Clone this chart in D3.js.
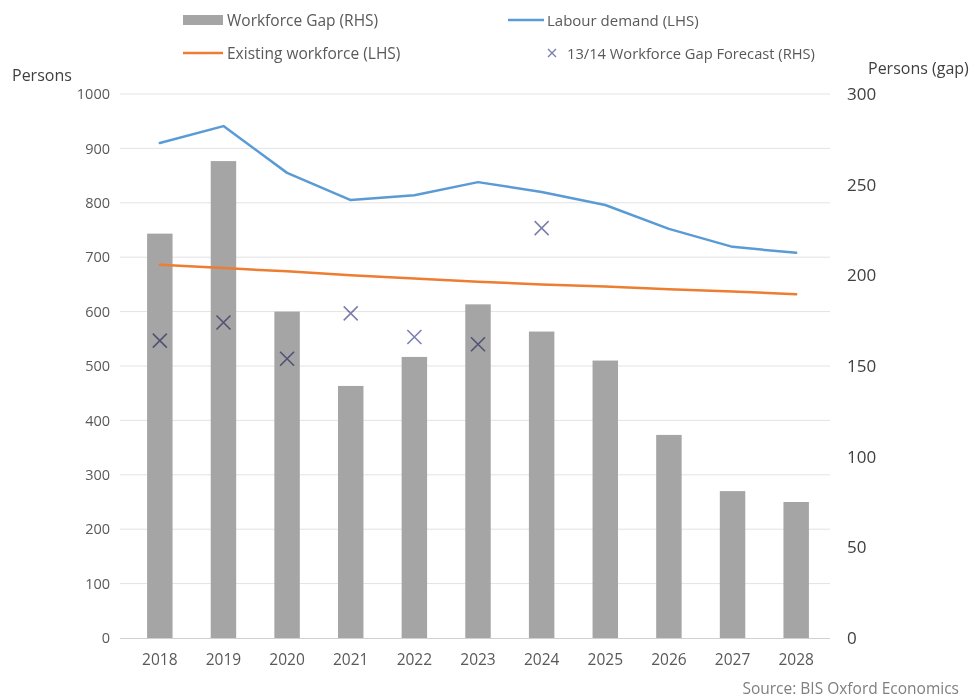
<!DOCTYPE html>
<html><head><meta charset="utf-8">
<script src="https://cdn.jsdelivr.net/npm/d3@7"></script>
<style>
body{margin:0;background:#fff;}
text{font-family:"Open Sans",sans-serif;}
</style></head>
<body><svg id="c" width="977" height="699"></svg>
<script>
const years = ["2018","2019","2020","2021","2022","2023","2024","2025","2026","2027","2028"];
const workforceGap = [223, 263, 180, 139, 155, 184, 169, 153, 112, 81, 75];
const labourDemand = [910, 941, 855, 805, 814, 838, 820, 796, 752, 719, 708];
const existingWorkforce = [686, 680, 674, 667, 661, 655, 650, 646, 641, 637, 632];
const forecastYears = ["2018","2019","2020","2021","2022","2023","2024"];
const forecastGap = [164, 174, 154, 179, 166, 162, 226];
const leftTicks = [0,100,200,300,400,500,600,700,800,900,1000];
const rightTicks = [0,50,100,150,200,250,300];

const svg = d3.select("#c");
const x = d3.scaleBand().domain(years).range([128, 828]).paddingInner(0.6).paddingOuter(0.3);
const yL = d3.scaleLinear().domain([0,1000]).range([638, 94]);
const yR = d3.scaleLinear().domain([0,300]).range([638, 94]);
const cx = d => x(d) + x.bandwidth()/2;

// gridlines
svg.append("g").selectAll("line").data(leftTicks.slice(1)).join("line")
  .attr("x1", 120).attr("x2", 830).attr("y1", d=>yL(d)).attr("y2", d=>yL(d))
  .attr("stroke", "#e3e3e3").attr("stroke-width", 1);

// bars
svg.append("g").selectAll("rect").data(years).join("rect")
  .attr("x", d=>x(d)).attr("width", x.bandwidth())
  .attr("y", (d,i)=>yR(workforceGap[i])).attr("height", (d,i)=>yR(0)-yR(workforceGap[i]))
  .attr("fill", "#a5a5a5");

// x axis line
svg.append("line").attr("x1",120).attr("x2",830).attr("y1",638.5).attr("y2",638.5).attr("stroke","#d0d0d0");

// lines
const line = arr => d3.line().x((d,i)=>cx(years[i])).y(d=>yL(d))(arr);
svg.append("path").attr("d", line(existingWorkforce)).attr("fill","none").attr("stroke","#ed7d31").attr("stroke-width",2.5).attr("stroke-linecap","round");
svg.append("path").attr("d", line(labourDemand)).attr("fill","none").attr("stroke","#5b9bd5").attr("stroke-width",2.5).attr("stroke-linecap","round").attr("stroke-linejoin","round");

// X markers
const s = 7;
svg.append("g").selectAll("path").data(forecastYears).join("path")
  .attr("d", (d,i)=>{const px=cx(d), py=yR(forecastGap[i]); return `M${px-s},${py-s}L${px+s},${py+s}M${px-s},${py+s}L${px+s},${py-s}`;})
  .attr("stroke", "#7d7fb0").attr("stroke-width", 1.6).style("mix-blend-mode","multiply");

// axes
const axL = d3.axisLeft(yL).tickValues(leftTicks).tickFormat(d3.format("d")).tickSize(0).tickPadding(0);
const gL = svg.append("g").attr("transform","translate(110,0)").call(axL);
gL.select(".domain").remove();
gL.selectAll("text").attr("fill","#595959").style("font-size","14.5px").style("font-family","'Open Sans',sans-serif");

const axR = d3.axisRight(yR).tickValues(rightTicks).tickSize(0).tickPadding(0);
const gR = svg.append("g").attr("transform","translate(847,0)").call(axR);
gR.select(".domain").remove();
gR.selectAll("text").attr("fill","#404040").style("font-size","17px").style("font-family","'Open Sans',sans-serif");

const axB = d3.axisBottom(x).tickSize(0).tickPadding(0);
const gB = svg.append("g").attr("transform","translate(0,654)").call(axB);
gB.select(".domain").remove();
gB.selectAll("text").attr("fill","#595959").style("font-size","15.5px").style("font-family","'Open Sans',sans-serif");

// axis titles
svg.append("text").attr("x",12).attr("y",81).attr("fill","#404040").style("font-size","16px").text("Persons");
svg.append("text").attr("x",868).attr("y",74).attr("fill","#404040").style("font-size","16px").text("Persons (gap)");
svg.append("text").attr("x",959).attr("y",694).attr("text-anchor","end").attr("fill","#7f7f7f").style("font-size","15.5px").text("Source: BIS Oxford Economics");

// legend
const lg = svg.append("g");
lg.append("rect").attr("x",183).attr("y",15).attr("width",40).attr("height",10).attr("fill","#a5a5a5");
lg.append("text").attr("x",227).attr("y",26).attr("fill","#595959").style("font-size","15.5px").text("Workforce Gap (RHS)");
lg.append("line").attr("x1",508).attr("x2",544).attr("y1",20).attr("y2",20).attr("stroke","#5b9bd5").attr("stroke-width",2.5);
lg.append("text").attr("x",547).attr("y",26).attr("fill","#595959").style("font-size","15px").text("Labour demand (LHS)");
lg.append("line").attr("x1",183).attr("x2",223).attr("y1",53).attr("y2",53).attr("stroke","#ed7d31").attr("stroke-width",2.5);
lg.append("text").attr("x",227).attr("y",59).attr("fill","#595959").style("font-size","15.5px").text("Existing workforce (LHS)");
lg.append("path").attr("d","M548,49L556,57M548,57L556,49").attr("stroke","#7d7fb0").attr("stroke-width",1.4);
lg.append("text").attr("x",567).attr("y",59).attr("fill","#595959").style("font-size","14.7px").text("13/14 Workforce Gap Forecast (RHS)");
</script></body></html>
